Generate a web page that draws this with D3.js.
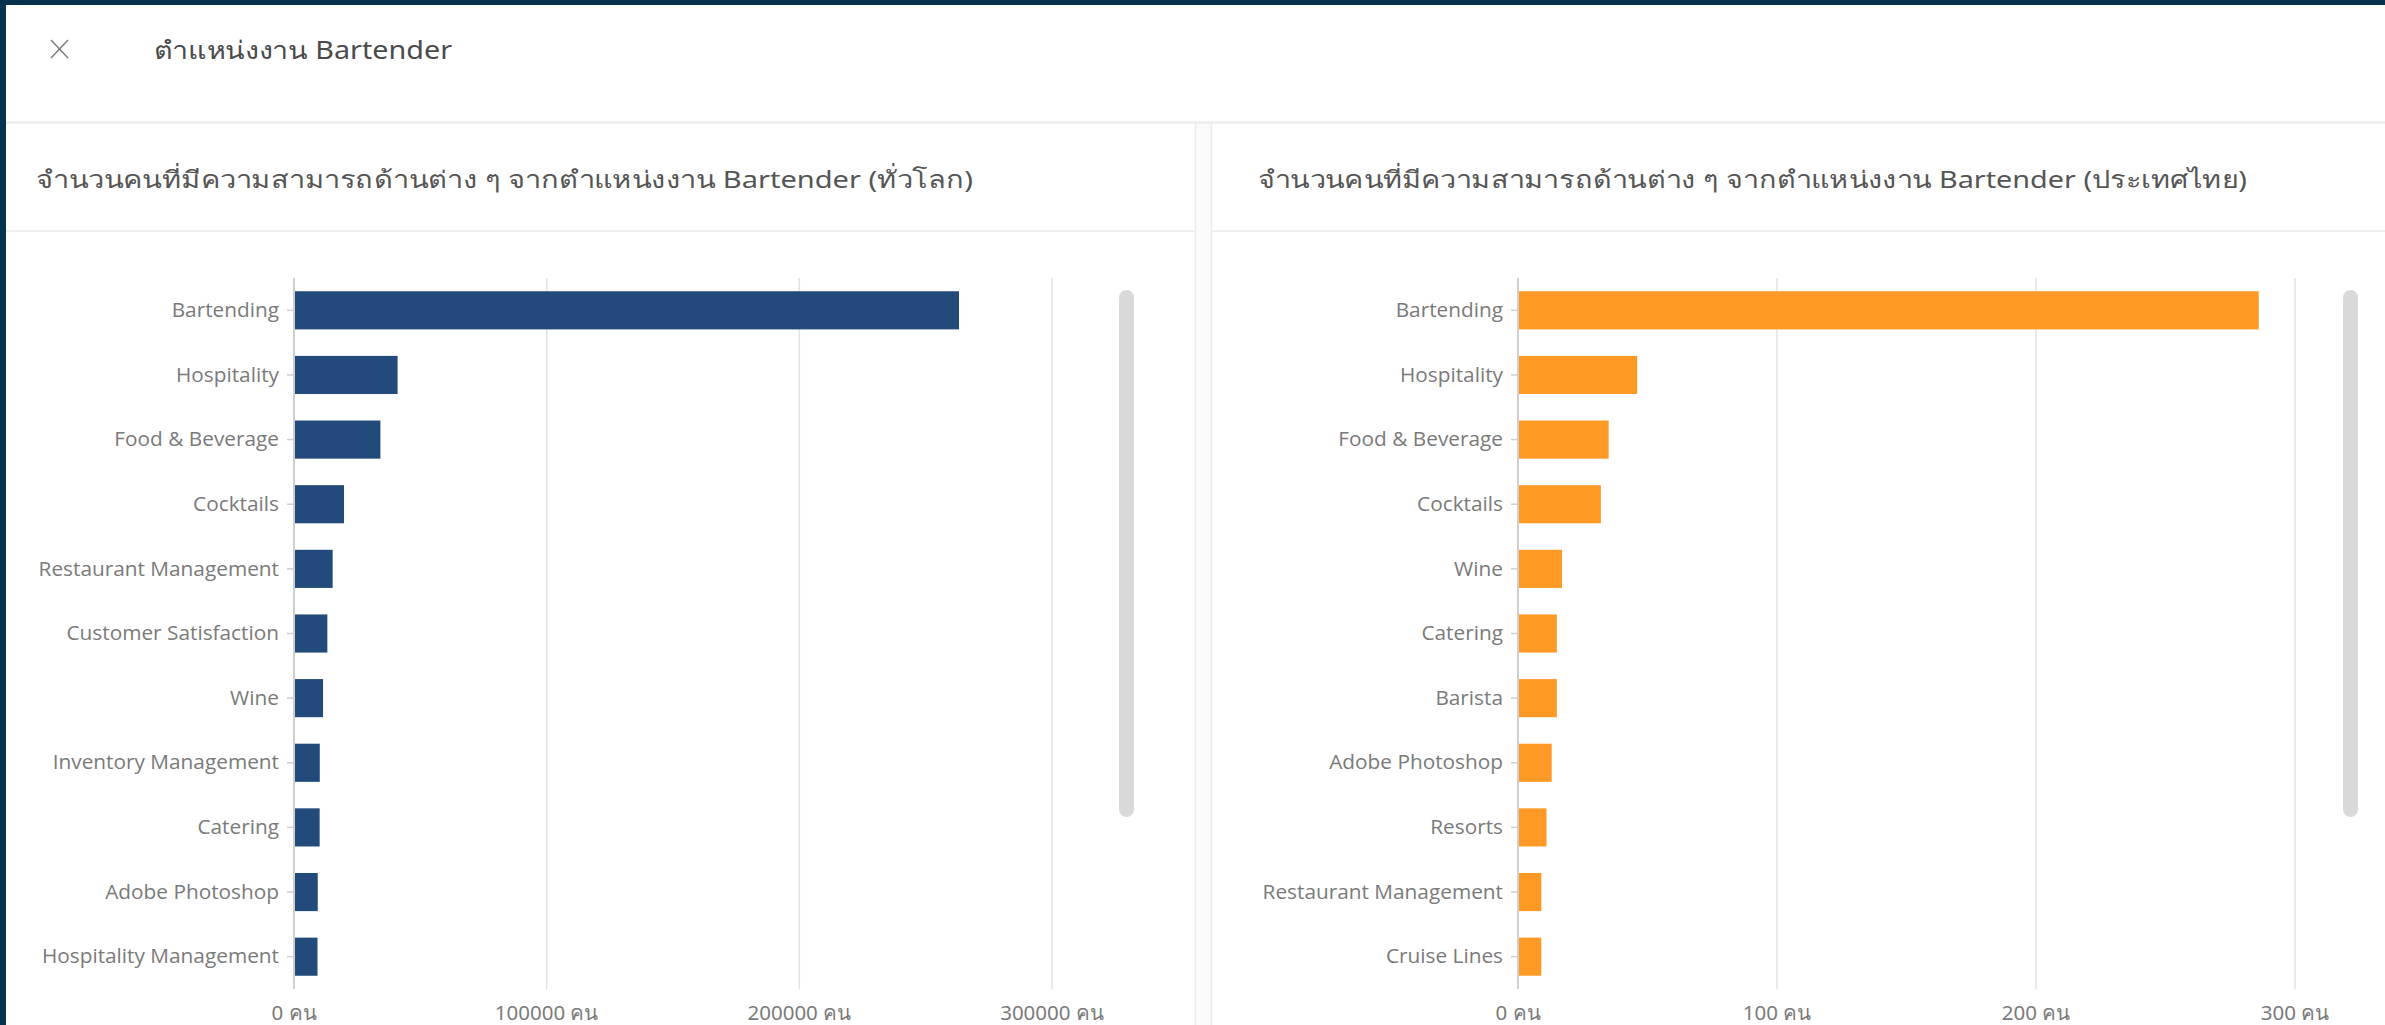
<!DOCTYPE html>
<html>
<head>
<meta charset="utf-8">
<script src="https://cdn.jsdelivr.net/npm/d3@7"></script>
<style>
    html, body { margin: 0; padding: 0; background: #06314f; overflow: hidden; }
    svg { display: block; font-family: "Segoe UI", "Noto Sans", "Open Sans", sans-serif; }
</style>
</head>
<body>
<main></main>
<script>
const pageTitle = "ตำแหน่งงาน Bartender";

const globalTitle = "จำนวนคนที่มีความสามารถด้านต่าง ๆ จากตำแหน่งงาน Bartender (ทั่วโลก)";
const globalSkills = ["Bartending", "Hospitality", "Food & Beverage", "Cocktails", "Restaurant Management",
    "Customer Satisfaction", "Wine", "Inventory Management", "Catering", "Adobe Photoshop", "Hospitality Management"];
const globalCounts = [263200, 41000, 34200, 19800, 15300, 13200, 11500, 10200, 10150, 9400, 9300];
const globalTicks = [0, 100000, 200000, 300000];

const thaiTitle = "จำนวนคนที่มีความสามารถด้านต่าง ๆ จากตำแหน่งงาน Bartender (ประเทศไทย)";
const thaiSkills = ["Bartending", "Hospitality", "Food & Beverage", "Cocktails", "Wine",
    "Catering", "Barista", "Adobe Photoshop", "Resorts", "Restaurant Management", "Cruise Lines"];
const thaiCounts = [286, 46, 35, 32, 17, 15, 15, 13, 11, 9, 9];
const thaiTicks = [0, 100, 200, 300];

const unit = " คน";

const W = 2385, H = 1025;

let svg = d3.select("main").append("svg")
    .attr("width", W)
    .attr("height", H);

// modal box
svg.append("rect").attr("x", 6).attr("y", 5).attr("width", W - 6).attr("height", H - 5).attr("fill", "#fff");

// header
svg.append("line").attr("x1", 51).attr("y1", 40).attr("x2", 68).attr("y2", 58)
    .attr("stroke", "#808080").attr("stroke-width", 1.6);
svg.append("line").attr("x1", 68).attr("y1", 40).attr("x2", 51).attr("y2", 58)
    .attr("stroke", "#808080").attr("stroke-width", 1.6);
svg.append("text")
    .attr("x", 154).attr("y", 49)
    .attr("dominant-baseline", "central")
    .attr("font-size", 25)
    .attr("fill", "#4a4a4a")
    .attr("textLength", 298)
    .attr("lengthAdjust", "spacingAndGlyphs")
    .text(pageTitle);

svg.append("rect").attr("x", 6).attr("y", 121).attr("width", W).attr("height", 3).attr("fill", "#eeeeee");

// gap between the two panels
svg.append("rect").attr("x", 1195).attr("y", 124).attr("width", 17).attr("height", H).attr("fill", "#fafafa");
svg.append("line").attr("x1", 1195.5).attr("y1", 124).attr("x2", 1195.5).attr("y2", H).attr("stroke", "#ececec").attr("stroke-width", 1.5);
svg.append("line").attr("x1", 1211.5).attr("y1", 124).attr("x2", 1211.5).attr("y2", H).attr("stroke", "#ececec").attr("stroke-width", 1.5);

function drawPanel(cfg) {
    let g = svg.append("g");

    g.append("text")
        .attr("x", cfg.titleX).attr("y", 178)
        .attr("dominant-baseline", "central")
        .attr("font-size", 24)
        .attr("fill", "#555")
        .attr("textLength", cfg.titleW)
        .attr("lengthAdjust", "spacingAndGlyphs")
        .text(cfg.title);

    g.append("rect")
        .attr("x", cfg.panelX).attr("y", 230)
        .attr("width", cfg.panelW).attr("height", 2)
        .attr("fill", "#efefef");

    const top = 278, bottom = 989;

    const x = d3.scaleLinear()
        .domain([0, d3.max(cfg.ticks)])
        .range([cfg.left, cfg.right]);

    const y = d3.scaleBand()
        .domain(cfg.skills)
        .range([top, bottom])
        .paddingInner(0.41)
        .paddingOuter(0.205);

    // grid
    g.append("g")
        .selectAll("line")
        .data(cfg.ticks.slice(1))
        .join("line")
        .attr("x1", d => x(d)).attr("x2", d => x(d))
        .attr("y1", top).attr("y2", bottom)
        .attr("stroke", "#e3e3e3")
        .attr("stroke-width", 1.5);

    // bars
    g.append("g")
        .selectAll("rect")
        .data(cfg.counts)
        .join("rect")
        .attr("x", x(0))
        .attr("y", (d, i) => y(cfg.skills[i]))
        .attr("width", d => x(d) - x(0))
        .attr("height", y.bandwidth())
        .attr("fill", cfg.color);

    // y axis
    const yAxis = g.append("g")
        .attr("transform", `translate(${x(0)},0)`)
        .call(d3.axisLeft(y).tickSize(7).tickPadding(8));
    yAxis.select(".domain").attr("stroke", "#cfcfcf").attr("stroke-width", 2)
        .attr("d", `M0,${top}V${bottom}`);
    yAxis.selectAll(".tick line").attr("stroke", "#cfcfcf").attr("stroke-width", 1.5);
    yAxis.selectAll(".tick text")
        .attr("font-size", 20.8)
        .attr("fill", "#7a7a7a")
        .attr("font-family", "'Segoe UI', 'Open Sans', sans-serif");

    // x axis labels
    g.append("g")
        .selectAll("text")
        .data(cfg.ticks)
        .join("text")
        .attr("x", d => x(d))
        .attr("y", 1012)
        .attr("text-anchor", "middle")
        .attr("dominant-baseline", "central")
        .attr("font-size", 20.5)
        .attr("fill", "#7a7a7a")
        .text(d => d + unit);

    // scrollbar
    g.append("rect")
        .attr("x", cfg.scrollX).attr("y", 290)
        .attr("width", 15).attr("height", 527)
        .attr("rx", 7.5)
        .attr("fill", "#d9d9d9");
}

drawPanel({
    title: globalTitle, titleX: 36, titleW: 937, panelX: 6, panelW: 1189,
    skills: globalSkills, counts: globalCounts, ticks: globalTicks,
    left: 294, right: 1052, color: "#224a7a", scrollX: 1119
});

drawPanel({
    title: thaiTitle, titleX: 1258, titleW: 989, panelX: 1212, panelW: 1173,
    skills: thaiSkills, counts: thaiCounts, ticks: thaiTicks,
    left: 1518, right: 2295, color: "#fe9926", scrollX: 2343
});
</script>
</body>
</html>
